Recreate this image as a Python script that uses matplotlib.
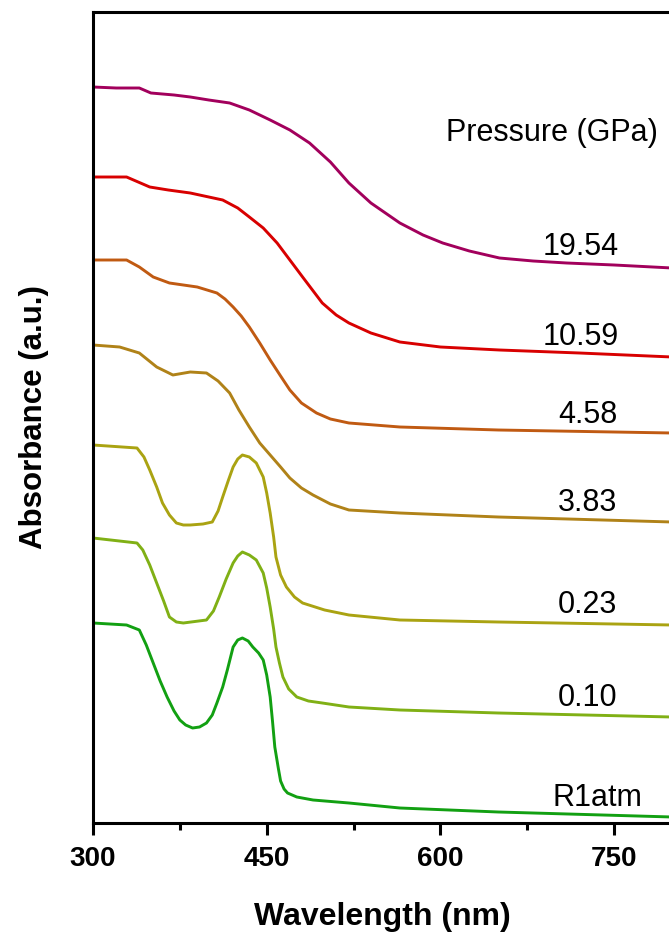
import matplotlib
matplotlib.use("Agg")
import matplotlib.pyplot as plt
from matplotlib.ticker import MultipleLocator

plt.rcParams['font.family'] = ['Liberation Sans', 'DejaVu Sans']

# spectra (wavelength nm, absorbance in offset a.u.)
wl_1954 = [300, 320, 340, 350, 370, 384, 400, 418, 435, 453, 470, 487, 505, 521, 540, 565,
           585, 602, 625, 651, 680, 709, 750, 800]
ab_1954 = [7.36, 7.35, 7.35, 7.30, 7.28, 7.26, 7.23, 7.20, 7.13, 7.03, 6.93, 6.80, 6.61, 6.40,
           6.20, 6.00, 5.88, 5.80, 5.72, 5.65, 5.62, 5.60, 5.58, 5.55]

wl_1059 = [300, 329, 349, 365, 384, 400, 412, 425, 435, 447, 459, 470, 481, 498, 510, 521,
           540, 565, 600, 651, 720, 800]
ab_1059 = [6.46, 6.46, 6.36, 6.33, 6.30, 6.26, 6.23, 6.15, 6.06, 5.95, 5.80, 5.63, 5.46, 5.20,
           5.08, 5.00, 4.90, 4.81, 4.76, 4.73, 4.70, 4.66]

wl_458 = [300, 329, 340, 352, 366, 390, 407, 414, 421, 428, 435, 444, 453, 462, 470, 480,
          493, 505, 521, 565, 650, 800]
ab_458 = [5.63, 5.63, 5.56, 5.46, 5.40, 5.36, 5.30, 5.24, 5.16, 5.07, 4.96, 4.80, 4.63, 4.47,
          4.33, 4.20, 4.10, 4.04, 4.00, 3.96, 3.93, 3.90]

wl_383 = [300, 323, 340, 355, 369, 384, 398, 408, 418, 426, 435, 444, 453, 462, 470, 480,
          490, 505, 521, 565, 650, 800]
ab_383 = [4.78, 4.76, 4.70, 4.56, 4.48, 4.51, 4.50, 4.42, 4.30, 4.13, 3.96, 3.80, 3.68, 3.56,
          3.45, 3.35, 3.28, 3.19, 3.13, 3.10, 3.06, 3.01]

wl_023 = [300, 338, 344, 349, 355, 360, 366, 372, 378, 384, 395, 403, 408, 412, 417, 421,
          425, 429, 435, 441, 447, 450, 453, 456, 458, 462, 467, 474, 481, 500, 521, 565, 650, 800]
ab_023 = [3.78, 3.75, 3.66, 3.53, 3.36, 3.20, 3.08, 3.00, 2.98, 2.98, 2.99, 3.01, 3.12, 3.26,
          3.43, 3.56, 3.64, 3.68, 3.66, 3.60, 3.46, 3.30, 3.10, 2.86, 2.66, 2.48, 2.36, 2.26,
          2.20, 2.13, 2.08, 2.03, 2.01, 1.98]

wl_010 = [300, 338, 343, 349, 355, 361, 366, 372, 378, 398, 404, 409, 415, 421, 425, 429,
          435, 441, 447, 450, 453, 456, 458, 461, 464, 469, 476, 486, 498, 521, 565, 650, 800]
ab_010 = [2.85, 2.80, 2.73, 2.58, 2.40, 2.22, 2.06, 2.01, 2.00, 2.03, 2.12, 2.26, 2.44, 2.60,
          2.67, 2.71, 2.68, 2.63, 2.50, 2.35, 2.16, 1.94, 1.76, 1.60, 1.46, 1.34, 1.26, 1.22,
          1.20, 1.16, 1.13, 1.10, 1.06]

wl_r1 = [300, 329, 340, 346, 352, 358, 364, 370, 375, 380, 386, 392, 398, 403, 407, 412, 416,
         421, 425, 429, 434, 438, 443, 447, 450, 453, 455, 457, 460, 462, 465, 468, 472, 476,
         490, 521, 565, 650, 800]
ab_r1 = [2.00, 1.98, 1.93, 1.78, 1.60, 1.42, 1.26, 1.12, 1.03, 0.98, 0.95, 0.96, 1.00, 1.08,
         1.20, 1.36, 1.53, 1.76, 1.83, 1.85, 1.82, 1.76, 1.70, 1.63, 1.48, 1.26, 1.02, 0.76,
         0.55, 0.42, 0.34, 0.30, 0.28, 0.26, 0.23, 0.20, 0.15, 0.11, 0.06]

labels = ['19.54', '10.59', '4.58', '3.83', '0.23', '0.10', 'R1atm']
colors = ['#A2005C', '#D80000', '#C05A12', '#B08218', '#AAA312', '#80B015', '#12A012']
series = [(wl_1954, ab_1954), (wl_1059, ab_1059), (wl_458, ab_458), (wl_383, ab_383),
          (wl_023, ab_023), (wl_010, ab_010), (wl_r1, ab_r1)]
# where the pressure labels sit (nm, a.u.)
label_x = [721, 721, 727, 727, 727, 727, 736]
label_y = [5.76, 4.86, 4.08, 3.20, 2.18, 1.25, 0.25]

fig = plt.figure(figsize=(6.69, 9.34), dpi=100)
ax = fig.add_axes([93/669, 111/934, 579/669, 811/934])

for (x, y), c in zip(series, colors):
    ax.plot(x, y, color=c, lw=2.1)

for lab, lx, ly in zip(labels, label_x, label_y):
    ax.text(lx, ly, lab, fontsize=22, ha='center', va='center')
ax.text(696, 6.90, 'Pressure (GPa)', fontsize=22, ha='center', va='center')

ax.set_xlim(300, 800)
ax.set_ylim(0, 8.11)
ax.xaxis.set_major_locator(MultipleLocator(150))
ax.xaxis.set_minor_locator(MultipleLocator(75))
ax.set_yticks([])
ax.tick_params(axis='x', which='major', direction='out', length=8.5, width=2.2,
               labelsize=20, pad=8)
ax.tick_params(axis='x', which='minor', direction='out', length=5, width=2.2)
for lab in ax.get_xticklabels():
    lab.set_fontweight('bold')
for sp in ax.spines.values():
    sp.set_linewidth(2.2)

ax.set_xlabel('Wavelength (nm)', fontsize=23, fontweight='bold', labelpad=22)
ax.set_ylabel('Absorbance (a.u.)', fontsize=22.5, fontweight='bold', labelpad=32)

fig.savefig('out.png', dpi=100)
